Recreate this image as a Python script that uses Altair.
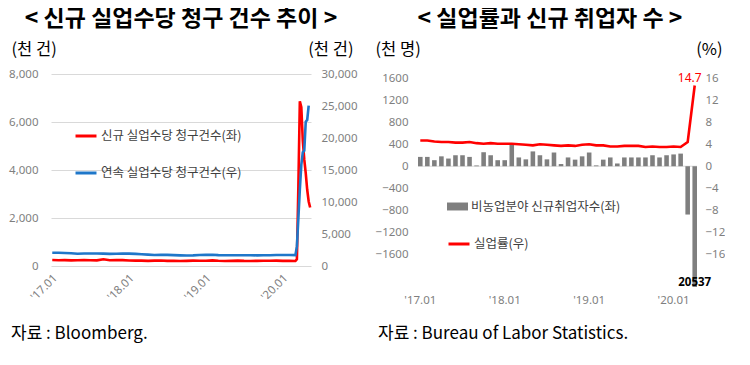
import altair as alt
import pandas as pd

FONT_KR = "Noto Sans CJK KR"
FONT_NUM = "Noto Sans"
GREY = "#7f7f7f"
RED = "#ff0000"
BLUE = "#1f77c9"

# ---------------- left chart data (thousands) ----------------
init_dates = [
    "2017-01-07", "2017-02-07", "2017-03-07", "2017-04-07", "2017-05-07", "2017-06-07",
    "2017-07-07", "2017-08-07", "2017-09-07", "2017-10-07", "2017-11-07", "2017-12-07",
    "2018-01-07", "2018-02-07", "2018-03-07", "2018-04-07", "2018-05-07", "2018-06-07",
    "2018-07-07", "2018-08-07", "2018-09-07", "2018-10-07", "2018-11-07", "2018-12-07",
    "2019-01-07", "2019-02-07", "2019-03-07", "2019-04-07", "2019-05-07", "2019-06-07",
    "2019-07-07", "2019-08-07", "2019-09-07", "2019-10-07", "2019-11-07", "2019-12-07",
    "2020-01-07", "2020-02-07", "2020-03-07", "2020-03-14", "2020-03-21", "2020-03-28",
    "2020-04-04", "2020-04-11", "2020-04-18", "2020-04-25", "2020-05-02", "2020-05-09",
    "2020-05-16",
]
initial_claims = [
    247, 241, 243, 236, 240, 244, 241, 236, 280, 238, 244, 245,
    232, 222, 225, 215, 222, 228, 214, 213, 206, 213, 223, 218,
    218, 233, 216, 211, 215, 222, 212, 210, 213, 216, 220, 222,
    212, 214, 211, 282, 3307, 6867, 6615, 5237, 4442, 3867, 3176, 2687,
    2438,
]
cont_dates = init_dates[:-1]
continuing_claims = [
    2060, 2060, 2030, 1990, 1920, 1950, 1950, 1950, 1930, 1890, 1920, 1950,
    1940, 1890, 1840, 1780, 1730, 1740, 1740, 1700, 1660, 1640, 1660, 1720,
    1740, 1760, 1700, 1680, 1680, 1690, 1690, 1690, 1660, 1690, 1690, 1720,
    1730, 1720, 1702, 3059, 7455, 11976, 15819, 17756, 18011, 22548, 22833, 25073,
]

# ---------------- right chart data ----------------
months = [
    "2017-01", "2017-02", "2017-03", "2017-04", "2017-05", "2017-06",
    "2017-07", "2017-08", "2017-09", "2017-10", "2017-11", "2017-12",
    "2018-01", "2018-02", "2018-03", "2018-04", "2018-05", "2018-06",
    "2018-07", "2018-08", "2018-09", "2018-10", "2018-11", "2018-12",
    "2019-01", "2019-02", "2019-03", "2019-04", "2019-05", "2019-06",
    "2019-07", "2019-08", "2019-09", "2019-10", "2019-11", "2019-12",
    "2020-01", "2020-02", "2020-03", "2020-04",
]
payrolls = [
    170, 170, 110, 180, 140, 200, 200, 170, 15, 255, 200, 110,
    110, 410, 160, 125, 270, 200, 125, 250, 40, 160, 120, 180,
    250, 15, 120, 160, 50, 160, 160, 160, 160, 200, 160, 200,
    215, 230, -880, -20537,
]
unemployment = [
    4.7, 4.7, 4.5, 4.4, 4.4, 4.3, 4.3, 4.4, 4.2, 4.1, 4.2, 4.1,
    4.1, 4.1, 4.0, 3.9, 3.8, 4.0, 3.9, 3.8, 3.7, 3.8, 3.7, 3.9,
    4.0, 3.8, 3.8, 3.6, 3.6, 3.7, 3.7, 3.7, 3.5, 3.6, 3.5, 3.5,
    3.6, 3.5, 4.4, 14.7,
]
x_tick_months = ["2017-01", "2018-01", "2019-01", "2020-01"]

S_INIT = "신규 실업수당 청구건수(좌)"
S_CONT = "연속 실업수당 청구건수(우)"
S_JOBS = "비농업분야 신규취업자수(좌)"
S_RATE = "실업률(우)"

TITLE_L = "< 신규 실업수당 청구 건수 추이 >"
TITLE_R = "< 실업률과 신규 취업자 수 >"
SRC_L = "자료 : Bloomberg."
SRC_R = "자료 : Bureau of Labor Statistics."

LW, LH = 260, 192
RW, RH = 279, 213
LABEL_SIZE = 11.5

init_df = pd.DataFrame({"date": init_dates, "value": initial_claims, "series": S_INIT})
cont_df = pd.DataFrame({"date": cont_dates, "value": continuing_claims, "series": S_CONT})
jobs_df = pd.DataFrame({"month": months, "jobs": payrolls, "series": S_JOBS})
rate_df = pd.DataFrame({"month": months, "rate": unemployment, "series": S_RATE})


def text_layer(txt, x, y, size, weight="normal", align="left", color="black"):
    return alt.Chart(pd.DataFrame({"t": [txt]})).mark_text(
        align=align, baseline="middle", font=FONT_KR, fontSize=size,
        fontWeight=weight, color=color,
    ).encode(text="t:N", x=alt.value(x), y=alt.value(y))


def unit_axis(orient, title, tx, align, values, fmt, pad, grid=False):
    return alt.Axis(orient=orient, values=values, format=fmt, grid=grid, gridColor="#d9d9d9",
                    domain=False, ticks=False, labelPadding=pad, labelFont=FONT_NUM,
                    labelFontSize=LABEL_SIZE, labelColor=GREY, title=title, titleAngle=0,
                    titleX=tx, titleY=-25, titleAlign=align, titleBaseline="middle",
                    titleFont=FONT_KR, titleFontSize=16.5, titleFontWeight="normal",
                    titleColor="black")


# ---------------- left chart ----------------
xL = alt.X(
    "date:T",
    title=None,
    scale=alt.Scale(domain=[alt.DateTime(year=2017, month=1, date=1),
                            alt.DateTime(year=2020, month=5, date=20)]),
    axis=alt.Axis(
        values=[alt.DateTime(year=y, month=1, date=1) for y in (2017, 2018, 2019, 2020)],
        labelExpr="\"'\" + timeFormat(datum.value, '%y.%m')",
        labelAngle=-45, labelFont=FONT_NUM, labelFontSize=LABEL_SIZE, labelColor=GREY,
        labelPadding=6, ticks=False, domain=False, grid=False,
    ),
)
color_L = alt.Color(
    "series:N",
    scale=alt.Scale(domain=[S_INIT, S_CONT], range=[RED, BLUE]),
    legend=alt.Legend(
        orient="none", legendX=23, legendY=50, title=None, symbolType="stroke",
        symbolSize=440, symbolStrokeWidth=3, labelFont=FONT_KR, labelFontSize=12.5,
        labelColor="#404040", rowPadding=18, labelOffset=3, padding=0,
    ),
)
line_init = alt.Chart(init_df).mark_line(strokeWidth=2.6).encode(
    x=xL,
    y=alt.Y("value:Q", scale=alt.Scale(domain=[0, 8000]),
            axis=unit_axis("left", "(천 건)", -40, "left", [0, 2000, 4000, 6000, 8000],
                           ",d", 13, grid=True)),
    color=color_L,
)
line_cont = alt.Chart(cont_df).mark_line(strokeWidth=2.6).encode(
    x=xL,
    y=alt.Y("value:Q", scale=alt.Scale(domain=[0, 30000]),
            axis=unit_axis("right", "(천 건)", 42, "right",
                           [0, 5000, 10000, 15000, 20000, 25000, 30000], ",d", 10)),
    color=color_L,
)
left = alt.layer(
    line_init, line_cont,
    text_layer(TITLE_L, 130, -55, 23, weight="bold", align="center"),
    text_layer(SRC_L, -40, 260, 17),
).resolve_scale(y="independent").properties(width=LW, height=LH)

# ---------------- right chart ----------------
xR = alt.X(
    "month:O", title=None, sort=months,
    scale=alt.Scale(paddingInner=0.35, paddingOuter=0),
    axis=alt.Axis(values=x_tick_months, labelAngle=0,
                  labelExpr="\"'\" + substring(datum.value, 2, 4) + '.' + substring(datum.value, 5, 7)",
                  labelFont=FONT_NUM, labelFontSize=LABEL_SIZE, labelColor=GREY, labelPadding=7,
                  ticks=False, domain=False, grid=False),
)
yJobs = alt.Y("jobs:Q", scale=alt.Scale(domain=[-2200, 1680]),
              axis=unit_axis("left", "(천 명)", -43, "left",
                             [-1600, -1200, -800, -400, 0, 400, 800, 1200, 1600], "d", 10))
bars = alt.Chart(jobs_df).mark_bar(clip=True).encode(
    x=xR,
    y=yJobs,
    color=alt.Color("series:N", scale=alt.Scale(domain=[S_JOBS], range=[GREY]),
                    legend=alt.Legend(orient="none", legendX=29, legendY=122, title=None,
                                      symbolType="M-1,-0.38L1,-0.38L1,0.38L-1,0.38Z",
                                      symbolSize=441, symbolStrokeWidth=0,
                                      labelFont=FONT_KR, labelFontSize=12.5,
                                      labelColor="#404040", labelOffset=3, padding=0)),
)
zero_rule = alt.Chart(pd.DataFrame({"jobs": [0]})).mark_rule(
    color="#d9d9d9", strokeWidth=1).encode(y=yJobs)
big_label = alt.Chart(jobs_df).transform_filter("datum.jobs < -2200").transform_calculate(
    absval="abs(datum.jobs)"
).mark_text(font=FONT_NUM, fontSize=11.5, fontWeight="bold", color="black",
            baseline="middle", align="center").encode(
    x=xR, y=alt.value(209), text=alt.Text("absval:Q", format="d")
)
bar_layer = alt.layer(zero_rule, bars, big_label)

yRate = alt.Y("rate:Q", scale=alt.Scale(domain=[-22, 16.8]),
              axis=unit_axis("right", "(%)", 25, "right",
                             [-16, -12, -8, -4, 0, 4, 8, 12, 16], "d", 8))
rate_line = alt.Chart(rate_df).mark_line(strokeWidth=2.6).encode(
    x=xR,
    y=yRate,
    color=alt.Color("series:N", scale=alt.Scale(domain=[S_RATE], range=[RED]),
                    legend=alt.Legend(orient="none", legendX=29, legendY=158, title=None,
                                      symbolType="stroke", symbolSize=441, symbolStrokeWidth=3,
                                      labelFont=FONT_KR, labelFontSize=12.5,
                                      labelColor="#404040", labelOffset=3, padding=0)),
)
rate_label = alt.Chart(rate_df).transform_filter("datum.rate > 10").mark_text(
    font=FONT_NUM, fontSize=12, color=RED, dx=-5, dy=-8, baseline="middle", align="center"
).encode(x=xR, y=yRate, text=alt.Text("rate:Q", format=".1f"))
rate_layer = alt.layer(rate_line, rate_label)

right = alt.layer(
    bar_layer, rate_layer,
    text_layer(TITLE_R, 132, -55, 23, weight="bold", align="center"),
    text_layer(SRC_R, -40, 260, 17),
).resolve_scale(y="independent", color="independent").resolve_legend(
    color="independent").properties(width=RW, height=RH)

chart = alt.hconcat(left, right, spacing=18).properties(
    padding={"left": 0, "top": 0, "right": 0, "bottom": 2}
).configure_view(stroke=None)

chart.save("out.html", embed_options={"renderer": "svg", "actions": False})
